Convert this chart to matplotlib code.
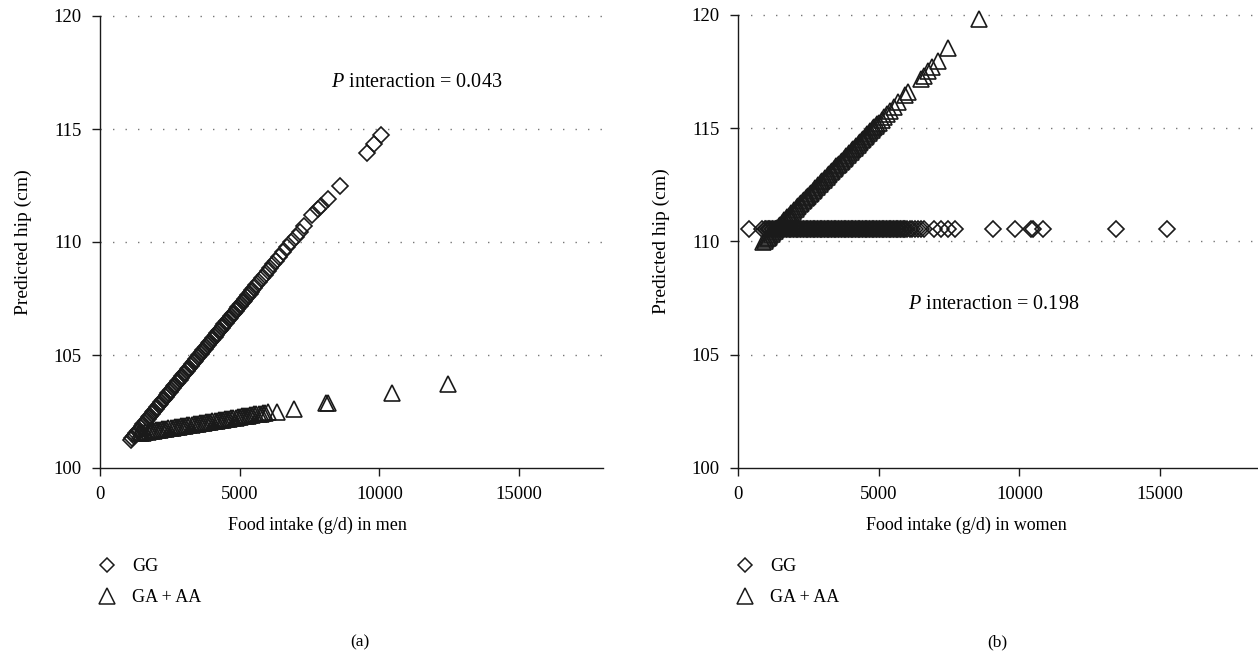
import matplotlib
matplotlib.use("Agg")
import matplotlib.pyplot as plt
from matplotlib.lines import Line2D

plt.rcParams['font.family'] = ['Liberation Serif', 'DejaVu Serif']
plt.rcParams['mathtext.fontset'] = 'custom'
plt.rcParams['mathtext.rm'] = 'Liberation Serif'
plt.rcParams['mathtext.it'] = 'Liberation Serif:italic'

# ---- men, GG (diamonds): food intake (g/d) / predicted hip (cm)
men_gg_x = [1100, 1150, 1200, 1250, 1300, 1350, 1400, 1450, 1500, 1550,
            1600, 1650, 1700, 1750, 1800, 1850, 1900, 1950, 2000, 2050,
            2100, 2150, 2200, 2250, 2300, 2350, 2400, 2450, 2500, 2550,
            2600, 2650, 2700, 2750, 2800, 2850, 2900, 2950, 3000, 3050,
            3100, 3150, 3200, 3250, 3300, 3350, 3400, 3450, 3500, 3550,
            3600, 3650, 3700, 3750, 3800, 3850, 3900, 3950, 4000, 4050,
            4100, 4150, 4200, 4250, 4300, 4350, 4400, 4450, 4500, 4550,
            4600, 4650, 4700, 4750, 4800, 4850, 4900, 4950, 5000, 5050,
            5100, 5150, 5200, 5250, 5300, 5350, 5400, 5450, 5500, 5600,
            5700, 5800, 5900, 6000, 6100, 6200, 6300, 6400, 6550, 6700,
            6850, 7000, 7150, 7300, 7600, 7800, 7900, 8150, 8600, 9550,
            9800, 10050]
men_gg_y = [101.25, 101.32, 101.40, 101.47, 101.55, 101.63, 101.70, 101.78, 101.85, 101.93,
            102.01, 102.08, 102.16, 102.24, 102.31, 102.39, 102.46, 102.54, 102.62, 102.69,
            102.77, 102.84, 102.92, 103.00, 103.07, 103.15, 103.22, 103.30, 103.38, 103.45,
            103.53, 103.61, 103.68, 103.76, 103.83, 103.91, 103.99, 104.06, 104.14, 104.22,
            104.29, 104.37, 104.44, 104.52, 104.60, 104.67, 104.75, 104.82, 104.90, 104.98,
            105.05, 105.13, 105.21, 105.28, 105.36, 105.43, 105.51, 105.59, 105.66, 105.74,
            105.81, 105.89, 105.97, 106.04, 106.12, 106.20, 106.27, 106.35, 106.42, 106.50,
            106.58, 106.65, 106.73, 106.80, 106.88, 106.96, 107.03, 107.11, 107.19, 107.26,
            107.34, 107.41, 107.49, 107.57, 107.64, 107.72, 107.79, 107.87, 107.95, 108.10,
            108.25, 108.40, 108.56, 108.71, 108.86, 109.01, 109.17, 109.32, 109.55, 109.77,
            110.00, 110.23, 110.46, 110.69, 111.20, 111.45, 111.60, 111.90, 112.50, 113.95,
            114.35, 114.75]

# ---- men, GA + AA (triangles)
men_ga_x = [1400, 1475, 1550, 1625, 1700, 1775, 1850, 1925, 2000, 2075,
            2150, 2225, 2300, 2375, 2450, 2525, 2600, 2675, 2750, 2825,
            2900, 2975, 3050, 3125, 3200, 3275, 3350, 3425, 3500, 3575,
            3650, 3725, 3800, 3875, 3950, 4025, 4100, 4175, 4250, 4325,
            4400, 4475, 4550, 4625, 4700, 4775, 4850, 4925, 5000, 5075,
            5150, 5225, 5300, 5375, 5450, 5525, 5600, 5675, 5750, 5825,
            5900, 6000, 6350, 6950, 8100, 8150, 10450, 12450]
men_ga_y = [101.54, 101.56, 101.57, 101.59, 101.60, 101.62, 101.63, 101.65, 101.66, 101.68,
            101.69, 101.71, 101.72, 101.74, 101.75, 101.77, 101.78, 101.80, 101.81, 101.83,
            101.84, 101.86, 101.87, 101.89, 101.90, 101.92, 101.93, 101.95, 101.96, 101.98,
            101.99, 102.01, 102.02, 102.04, 102.05, 102.07, 102.08, 102.10, 102.11, 102.13,
            102.14, 102.16, 102.17, 102.19, 102.20, 102.22, 102.23, 102.25, 102.26, 102.28,
            102.29, 102.31, 102.32, 102.34, 102.35, 102.37, 102.38, 102.40, 102.41, 102.43,
            102.44, 102.46, 102.50, 102.62, 102.87, 102.88, 103.32, 103.72]

# ---- women, GG (diamonds): flat line at 110.55
women_gg_x = [390, 850, 950, 1000, 1050, 1100, 1150, 1200, 1250, 1300, 1350,
              1400, 1450, 1500, 1550, 1600, 1650, 1700, 1750, 1800, 1850,
              1900, 1950, 2000, 2050, 2100, 2150, 2200, 2250, 2300, 2350,
              2400, 2450, 2500, 2550, 2600, 2650, 2700, 2750, 2800, 2850,
              2900, 2950, 3000, 3050, 3100, 3150, 3200, 3250, 3300, 3350,
              3400, 3450, 3500, 3550, 3600, 3650, 3700, 3750, 3800, 3850,
              3900, 3950, 4000, 4050, 4100, 4150, 4200, 4250, 4300, 4350,
              4400, 4450, 4500, 4550, 4600, 4650, 4700, 4750, 4800, 4850,
              4900, 4950, 5000, 5050, 5100, 5150, 5200, 5250, 5300, 5350,
              5400, 5450, 5500, 5550, 5600, 5650, 5700, 5750, 5800, 5850,
              5900, 5950, 6000, 6100, 6200, 6300, 6400, 6500, 6600, 6950,
              7200, 7450, 7700, 9050, 9850, 10400, 10500, 10850, 13450, 15250]
women_gg_y = [110.55] * len(women_gg_x)

# ---- women, GA + AA (triangles)
women_ga_x = [900, 950, 1000, 1050, 1100, 1150, 1200, 1250, 1300, 1350,
              1400, 1450, 1500, 1550, 1600, 1650, 1700, 1750, 1800, 1850,
              1900, 1950, 2000, 2050, 2100, 2150, 2200, 2250, 2300, 2350,
              2400, 2450, 2500, 2550, 2600, 2650, 2700, 2750, 2800, 2850,
              2900, 2950, 3000, 3050, 3100, 3150, 3200, 3250, 3300, 3350,
              3400, 3450, 3500, 3550, 3600, 3650, 3700, 3750, 3800, 3850,
              3900, 3950, 4000, 4050, 4100, 4150, 4200, 4250, 4300, 4350,
              4400, 4450, 4500, 4550, 4600, 4650, 4700, 4750, 4800, 4850,
              4900, 4950, 5000, 5100, 5200, 5300, 5400, 5550, 5700, 5950,
              6050, 6500, 6600, 6750, 6900, 7100, 7450, 8550]
women_ga_y = [109.96, 110.03, 110.09, 110.15, 110.22, 110.28, 110.35, 110.41, 110.48, 110.54,
              110.61, 110.67, 110.74, 110.80, 110.86, 110.93, 110.99, 111.06, 111.12, 111.19,
              111.25, 111.32, 111.38, 111.44, 111.51, 111.57, 111.64, 111.70, 111.77, 111.83,
              111.90, 111.96, 112.03, 112.09, 112.15, 112.22, 112.28, 112.35, 112.41, 112.48,
              112.54, 112.61, 112.67, 112.73, 112.80, 112.86, 112.93, 112.99, 113.06, 113.12,
              113.19, 113.25, 113.32, 113.38, 113.44, 113.51, 113.57, 113.64, 113.70, 113.77,
              113.83, 113.90, 113.96, 114.02, 114.09, 114.15, 114.22, 114.28, 114.35, 114.41,
              114.48, 114.54, 114.61, 114.67, 114.73, 114.80, 114.86, 114.93, 114.99, 115.06,
              115.12, 115.19, 115.25, 115.38, 115.51, 115.64, 115.77, 115.96, 116.15, 116.48,
              116.60, 117.19, 117.31, 117.51, 117.70, 117.96, 118.55, 119.83]

y_ticks = [100, 105, 110, 115, 120]
x_ticks = [0, 5000, 10000, 15000]
series_labels = ['GG', 'GA + AA']
x_titles = ['Food intake (g/d) in men', 'Food intake (g/d) in women']
p_texts = [r'$P$ interaction = 0.043', r'$P$ interaction = 0.198']
panel_tags = ['(a)', '(b)']

W, H = 1258, 655
fig = plt.figure(figsize=(W / 100, H / 100), dpi=100)
ax1 = fig.add_axes([100 / W, 1 - 468 / H, 503 / W, 452 / H])
ax2 = fig.add_axes([738 / W, 1 - 468 / H, 520 / W, 453 / H])

dia = dict(marker='D', ms=8.3, mfc='none', mec='#1a1a1a', mew=1.2, ls='none', clip_on=False)
tri = dict(marker='^', ms=12, mfc='none', mec='#1a1a1a', mew=1.2, ls='none', clip_on=False)

ax1.plot(men_ga_x, men_ga_y, **tri)
ax1.plot(men_gg_x, men_gg_y, **dia)
ax2.plot(women_gg_x, women_gg_y, **dia)
ax2.plot(women_ga_x, women_ga_y, **tri)

for ax, xmax in [(ax1, 18000), (ax2, 18480)]:
    ax.set_xlim(0, xmax)
    ax.set_ylim(100, 120)
    ax.set_xticks(x_ticks)
    ax.set_yticks(y_ticks)
    ax.spines['top'].set_visible(False)
    ax.spines['right'].set_visible(False)
    for s in ['left', 'bottom']:
        ax.spines[s].set_linewidth(1.0)
        ax.spines[s].set_color('#1a1a1a')
    ax.tick_params(direction='out', length=6, width=1.0, color='#1a1a1a',
                   labelsize=13.5, pad=7)
    # dotted horizontal guides
    for yv in y_ticks[1:]:
        ax.axhline(yv, color='#777777', lw=1.0, ls=(0, (1, 8)), zorder=0, clip_on=False)
    ax.set_ylabel('Predicted hip (cm)', fontsize=14)

ax1.yaxis.set_label_coords(-0.135, 0.5)
ax2.yaxis.set_label_coords(-0.131, 0.5)
ax1.set_xlabel(x_titles[0], fontsize=13)
ax2.set_xlabel(x_titles[1], fontsize=13)
ax1.xaxis.set_label_coords((317 - 100) / 503, -0.108)
ax2.xaxis.set_label_coords((966 - 738) / 520, -0.108)

ax1.text(0.63, 0.852, p_texts[0], transform=ax1.transAxes, ha='center', va='center', fontsize=14.5)
ax2.text(0.492, 0.36, p_texts[1], transform=ax2.transAxes, ha='center', va='center', fontsize=14.5)

handles = [Line2D([], [], marker='D', ms=7.5, mfc='white', mec='#1a1a1a', mew=1.1, ls='none'),
           Line2D([], [], marker='^', ms=11, mfc='white', mec='#1a1a1a', mew=1.1, ls='none')]
for lx in [96, 734]:
    fig.legend(handles, series_labels, loc='upper left', bbox_to_anchor=(lx / W, 1 - 558 / H),
               frameon=False, fontsize=13, handlelength=1.2, handletextpad=0.8,
               labelspacing=0.78, borderpad=0, borderaxespad=0)

fig.text(360 / W, 1 - 642 / H, panel_tags[0], ha='center', va='center', fontsize=12.5)
fig.text(997 / W, 1 - 642 / H, panel_tags[1], ha='center', va='center', fontsize=12.5)

fig.savefig('out.png', dpi=100)
